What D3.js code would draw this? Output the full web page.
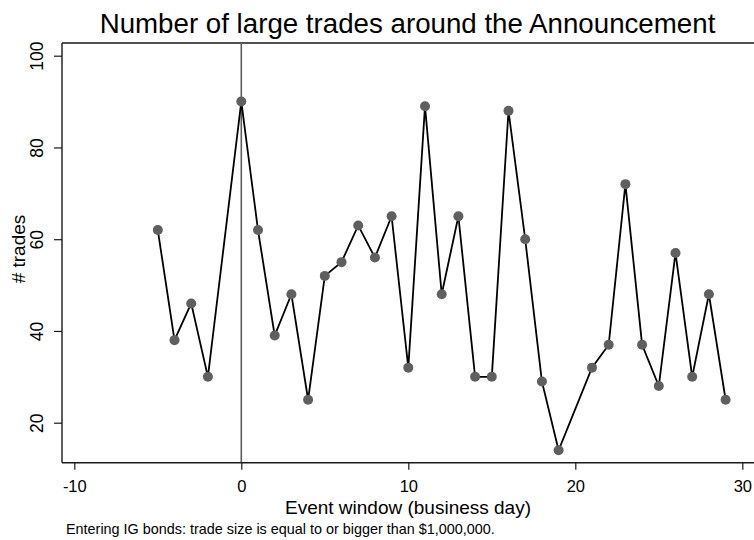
<!DOCTYPE html>
<html>
<head>
<meta charset="utf-8">
<script src="https://cdn.jsdelivr.net/npm/d3@7"></script>
<style>
  html, body { margin: 0; padding: 0; background: #fff; }
  svg { display: block; font-family: "Liberation Sans", Arial, Helvetica, sans-serif; }
</style>
</head>
<body>
<svg id="chart" width="754" height="540"></svg>
<script>
// Event days relative to the announcement (day 20 has no observation)
const eventDays = [-5, -4, -3, -2, 0, 1, 2, 3, 4, 5, 6, 7, 8, 9, 10, 11, 12, 13, 14, 15,
                   16, 17, 18, 19, 21, 22, 23, 24, 25, 26, 27, 28, 29];
// Number of large trades on each event day
const tradeCounts = [62, 38, 46, 30, 90, 62, 39, 48, 25, 52, 55, 63, 56, 65, 32, 89, 48, 65, 30, 30,
                     88, 60, 29, 14, 32, 37, 72, 37, 28, 57, 30, 48, 25];
const xTicks = [-10, 0, 10, 20, 30];
const yTicks = [20, 40, 60, 80, 100];
const announcementDay = 0;

const titleText = "Number of large trades around the Announcement";
const xTitle = "Event window (business day)";
const yTitle = "# trades";
const noteText = "Entering IG bonds: trade size is equal to or bigger than $1,000,000.";

const svg = d3.select("#chart");

// Plot region (right side runs past the edge of the canvas)
const plot = { left: 62, top: 43, right: 760, bottom: 462.7 };

const x = d3.scaleLinear().domain([-10, 30]).range([74.3, 742.3]);
const y = d3.scaleLinear().domain([20, 100]).range([422.7, 55.7]);

const data = eventDays.map((d, i) => ({ day: d, n: tradeCounts[i] }));

// Plain hyphen-minus for negative tick labels
const tickFmt = d => String(d);

// Frame line along the top
svg.append("line")
  .attr("x1", plot.left).attr("x2", plot.right)
  .attr("y1", plot.top).attr("y2", plot.top)
  .attr("stroke", "#1a1a1a").attr("stroke-width", 1.4);

// Vertical reference line at the announcement day
svg.append("line")
  .attr("x1", x(announcementDay)).attr("x2", x(announcementDay))
  .attr("y1", plot.top).attr("y2", plot.bottom)
  .attr("stroke", "#5c5c5c").attr("stroke-width", 1.6);

// Connected series
const line = d3.line().x(d => x(d.day)).y(d => y(d.n));
svg.append("path")
  .datum(data)
  .attr("d", line)
  .attr("fill", "none")
  .attr("stroke", "#000")
  .attr("stroke-width", 1.8)
  .attr("stroke-linejoin", "miter");

svg.append("g").selectAll("circle")
  .data(data)
  .join("circle")
  .attr("cx", d => x(d.day))
  .attr("cy", d => y(d.n))
  .attr("r", 5)
  .attr("fill", "#5f5f5f");

// Bottom axis
const xAxis = d3.axisBottom(x).tickValues(xTicks).tickSize(7).tickFormat(tickFmt);
const gx = svg.append("g").attr("transform", `translate(0,${plot.bottom})`).call(xAxis);
gx.select(".domain").remove();
gx.append("line")
  .attr("x1", plot.left).attr("x2", plot.right)
  .attr("y1", 0).attr("y2", 0)
  .attr("stroke", "#1a1a1a").attr("stroke-width", 1.4);
gx.selectAll(".tick line").attr("stroke", "#1a1a1a").attr("stroke-width", 1.2);
gx.selectAll(".tick text")
  .attr("font-family", "Liberation Sans, Arial, sans-serif")
  .attr("font-size", 16.5)
  .attr("fill", "#000")
  .attr("dy", null)
  .attr("y", 29.8);

// Left axis
const yAxis = d3.axisLeft(y).tickValues(yTicks).tickSize(8).tickFormat(tickFmt);
const gy = svg.append("g").attr("transform", `translate(${plot.left},0)`).call(yAxis);
gy.select(".domain").remove();
gy.append("line")
  .attr("x1", 0).attr("x2", 0)
  .attr("y1", plot.top).attr("y2", plot.bottom)
  .attr("stroke", "#1a1a1a").attr("stroke-width", 1.4);
gy.selectAll(".tick line").attr("stroke", "#1a1a1a").attr("stroke-width", 1.2);
gy.selectAll(".tick text")
  .attr("font-family", "Liberation Sans, Arial, sans-serif")
  .attr("font-size", 17.5)
  .attr("fill", "#000")
  .attr("x", null).attr("dy", null)
  .attr("text-anchor", "middle")
  .attr("transform", "translate(-19,0) rotate(-90)");

// Title
svg.append("text")
  .attr("x", 407.5).attr("y", 33)
  .attr("text-anchor", "middle")
  .attr("font-size", 27.7)
  .attr("fill", "#000")
  .text(titleText);

// Axis titles
svg.append("text")
  .attr("x", 408).attr("y", 514)
  .attr("text-anchor", "middle")
  .attr("font-size", 19)
  .attr("fill", "#000")
  .text(xTitle);

svg.append("text")
  .attr("transform", "translate(25,249) rotate(-90)")
  .attr("text-anchor", "middle")
  .attr("font-size", 19)
  .attr("fill", "#000")
  .text(yTitle);

// Note under the chart
svg.append("text")
  .attr("x", 66).attr("y", 534)
  .attr("font-size", 14.4)
  .attr("fill", "#000")
  .text(noteText);
</script>
</body>
</html>
